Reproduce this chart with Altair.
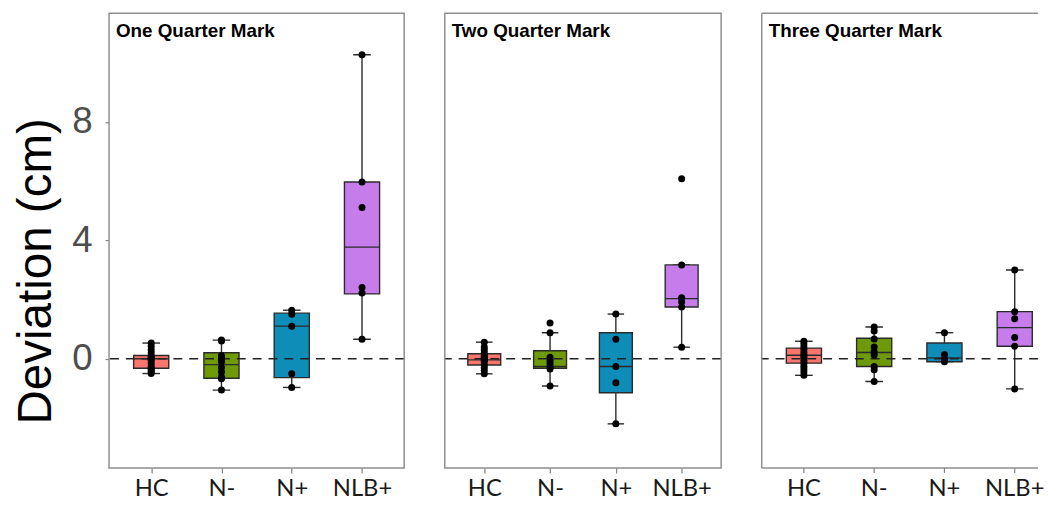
import altair as alt
import pandas as pd

groups = ["HC", "N-", "N+", "NLB+"]
colors = ["#F8766D", "#6E9A08", "#0E8DB8", "#C67CEA"]
panel_titles = ["One Quarter Mark", "Two Quarter Mark", "Three Quarter Mark"]
y_ticks = [0, 4, 8]
y_domain = [-3.69, 11.67]

# box statistics per panel (lower whisker, Q1, median, Q3, upper whisker)
lo_p1 = [-0.50, -1.06, -0.97, 0.66]
q1_p1 = [-0.32, -0.66, -0.64, 2.19]
med_p1 = [0.00, -0.20, 1.10, 3.77]
q3_p1 = [0.11, 0.20, 1.54, 5.97]
hi_p1 = [0.53, 0.63, 1.64, 10.27]

lo_p2 = [-0.51, -0.92, -2.20, 0.39]
q1_p2 = [-0.21, -0.32, -1.15, 1.75]
med_p2 = [-0.04, -0.26, -0.26, 2.03]
q3_p2 = [0.17, 0.27, 0.88, 3.17]
hi_p2 = [0.56, 0.88, 1.51, 3.17]

lo_p3 = [-0.56, -0.77, -0.10, -1.02]
q1_p3 = [-0.15, -0.26, -0.10, 0.42]
med_p3 = [0.12, 0.21, 0.03, 1.05]
q3_p3 = [0.36, 0.69, 0.53, 1.59]
hi_p3 = [0.59, 1.07, 0.88, 3.00]

# individual observations
pts_p1_HC = [-0.50, -0.45, -0.38, -0.32, -0.25, -0.15, -0.05, 0.00, 0.05, 0.10, 0.20, 0.30, 0.42, 0.53]
pts_p1_Nm = [-1.06, -0.68, -0.62, -0.45, -0.30, -0.10, 0.00, 0.10, 0.60, 0.63]
pts_p1_Np = [-0.97, -0.51, 1.10, 1.50, 1.64]
pts_p1_NLB = [0.66, 2.22, 2.41, 5.11, 5.97, 10.27]

pts_p2_HC = [-0.51, -0.40, -0.30, -0.20, -0.10, -0.05, 0.00, 0.05, 0.10, 0.20, 0.30, 0.40, 0.56]
pts_p2_Nm = [-0.92, -0.35, -0.25, -0.15, -0.05, 0.05, 0.88, 1.21]
pts_p2_Np = [-2.20, -0.81, -0.26, 0.66, 1.51]
pts_p2_NLB = [0.39, 1.75, 1.92, 2.06, 3.17, 6.08]

pts_p3_HC = [-0.56, -0.45, -0.35, -0.25, -0.15, -0.05, 0.05, 0.12, 0.20, 0.30, 0.40, 0.50, 0.59]
pts_p3_Nm = [-0.77, -0.37, -0.26, 0.13, 0.24, 0.40, 0.67, 0.94, 1.07]
pts_p3_Np = [-0.10, 0.00, 0.14, 0.88]
pts_p3_NLB = [-1.02, 0.42, 0.72, 1.35, 1.59, 3.00]

panel_stats = [
    (lo_p1, q1_p1, med_p1, q3_p1, hi_p1),
    (lo_p2, q1_p2, med_p2, q3_p2, hi_p2),
    (lo_p3, q1_p3, med_p3, q3_p3, hi_p3),
]
panel_points = [
    [pts_p1_HC, pts_p1_Nm, pts_p1_Np, pts_p1_NLB],
    [pts_p2_HC, pts_p2_Nm, pts_p2_Np, pts_p2_NLB],
    [pts_p3_HC, pts_p3_Nm, pts_p3_Np, pts_p3_NLB],
]
# visible panel widths and the width the x scale spans (third panel is cut off on the right)
panel_widths = [298, 279, 279]
scale_widths = [298, 279, 298]
PANEL_H = 459
LINE = "#2b2b2b"
BORDER = "#8f8f8f"
TICK = "#7f7f7f"


def make_panel(i):
    width = panel_widths[i]
    sw = scale_widths[i]
    step = sw / 4.2
    box_w = 0.5 * step
    cap_w = 0.25 * step
    lo, q1, med, q3, hi = panel_stats[i]
    df_box = pd.DataFrame({"group": groups, "lo": lo, "q1": q1, "med": med, "q3": q3, "hi": hi})
    rows = []
    for g, vals in zip(groups, panel_points[i]):
        for v in vals:
            rows.append({"group": g, "val": v})
    df_pts = pd.DataFrame(rows)
    one = pd.DataFrame({"t": [panel_titles[i]]})

    manual_x = i == 2
    if manual_x:
        xaxis = None
    else:
        xaxis = alt.Axis(
            labelFont="Lato", labelFontSize=24, labelColor="#1a1a1a", labelAngle=0,
            labelPadding=4, tickSize=5, tickColor=TICK, tickWidth=1.2,
            domain=False, grid=False, title=None,
        )
    if i == 0:
        yaxis = alt.Axis(
            values=y_ticks, labelFont="Liberation Sans", labelFontSize=37,
            labelColor="#4d4d4d", labelPadding=13, tickSize=4, tickColor=TICK,
            tickWidth=1.2, domain=False, grid=False, title="Deviation (cm)",
            titleFont="Liberation Sans", titleFontSize=48, titleFontWeight="normal",
            titleColor="black", titlePadding=12, titleY=260,
        )
    else:
        yaxis = None
    xscale = alt.Scale(type="point", domain=groups, padding=0.6, range=[0, sw])
    yscale = alt.Scale(domain=y_domain, nice=False, zero=False)

    def X():
        return alt.X("group:N", scale=xscale, axis=xaxis, title=None)

    def Y(field):
        return alt.Y(field, scale=yscale, axis=yaxis, title="Deviation (cm)" if i == 0 else None)

    whisk = alt.Chart(df_box).mark_rule(color=LINE, strokeWidth=1.4).encode(
        x=X(), y=Y("lo:Q"), y2="hi:Q")
    cap_lo = alt.Chart(df_box).mark_tick(size=cap_w, thickness=1.4, color=LINE, opacity=1).encode(
        x=X(), y=Y("lo:Q"))
    cap_hi = alt.Chart(df_box).mark_tick(size=cap_w, thickness=1.4, color=LINE, opacity=1).encode(
        x=X(), y=Y("hi:Q"))
    box = alt.Chart(df_box).mark_bar(size=box_w, stroke=LINE, strokeWidth=1.4, opacity=1).encode(
        x=X(), y=Y("q1:Q"), y2="q3:Q",
        color=alt.Color("group:N", scale=alt.Scale(domain=groups, range=colors), legend=None))
    median = alt.Chart(df_box).mark_tick(size=box_w, thickness=1.4, color=LINE, opacity=1).encode(
        x=X(), y=Y("med:Q"))
    zero = alt.Chart(pd.DataFrame({"z": [0]})).mark_rule(
        color="#222222", strokeWidth=1.6, strokeDash=[9, 7]).encode(y=Y("z:Q"))
    pts = alt.Chart(df_pts).mark_circle(size=50, color="black", opacity=1).encode(
        x=X(), y=Y("val:Q"))
    label = alt.Chart(one).mark_text(
        align="left", baseline="alphabetic", font="Liberation Sans", fontSize=19,
        fontWeight="bold", color="black").encode(
        x=alt.value(7), y=alt.value(24), text="t:N")

    layers = [whisk, cap_lo, cap_hi, box, median, zero, pts, label]
    if i < 2:
        border = alt.Chart(one).mark_rect(fillOpacity=0, stroke=BORDER, strokeWidth=1.5).encode(
            x=alt.value(0), x2=alt.value(width), y=alt.value(0), y2=alt.value(PANEL_H))
        layers.append(border)
    else:
        left = alt.Chart(one).mark_rule(color=BORDER, strokeWidth=1.5).encode(
            x=alt.value(0), y=alt.value(0), y2=alt.value(PANEL_H))
        top = alt.Chart(one).mark_rule(color=BORDER, strokeWidth=1.5).encode(
            x=alt.value(0), x2=alt.value(width), y=alt.value(0))
        bottom = alt.Chart(one).mark_rule(color=BORDER, strokeWidth=1.5).encode(
            x=alt.value(0), x2=alt.value(width), y=alt.value(PANEL_H))
        layers += [left, top, bottom]
    if manual_x:
        df_g = pd.DataFrame({"group": groups})
        ticks = alt.Chart(df_g).mark_rule(color=TICK, strokeWidth=1.2).encode(
            x=X(), y=alt.value(PANEL_H), y2=alt.value(PANEL_H + 5))
        labels = alt.Chart(df_g).mark_text(
            align="center", baseline="top", font="Lato", fontSize=24, color="#1a1a1a").encode(
            x=X(), y=alt.value(PANEL_H + 9), text="group:N")
        layers += [ticks, labels]

    return alt.layer(*layers).properties(width=width, height=PANEL_H)


chart = alt.hconcat(*[make_panel(i) for i in range(3)], spacing=39).properties(
    padding={"left": 4, "top": 2, "right": 0, "bottom": 0},
    background="white",
).configure_view(stroke=None)

chart.save("out.html", embed_options={"renderer": "svg", "actions": False})
